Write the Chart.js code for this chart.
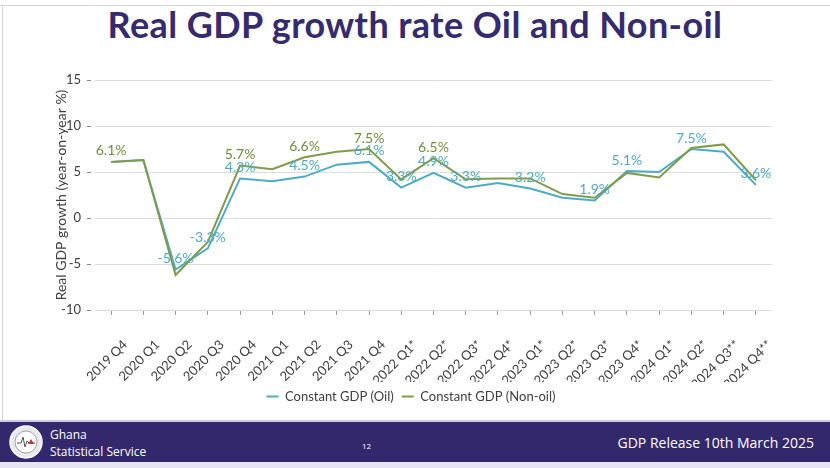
<!DOCTYPE html>
<html>
<head>
<meta charset="utf-8">
<script src="https://cdn.jsdelivr.net/npm/chart.js@4.4.0/dist/chart.umd.js"></script>
<style>
  html, body { margin: 0; padding: 0; background: #fff; }
  #slide { position: relative; width: 830px; height: 468px; overflow: hidden; background: #fff; }
  #frameTop { position: absolute; left: 0; top: 5px; width: 830px; height: 1px; background: #d4d4d4; }
  #frameLeft { position: absolute; left: 2px; top: 5px; width: 1px; height: 416px; background: #d4d4d4; }
  #title { position: absolute; left: 0; top: 2px; width: 830px; text-align: center; letter-spacing: 0.4px;
           font-family: Lato, sans-serif; font-weight: bold; font-size: 36px; color: #352b6e; }
  #chartBox { position: absolute; left: 0; top: 55px; width: 830px; height: 362px; }
  #footerLine { position: absolute; left: 0; top: 420px; width: 830px; height: 2px; background: #cfcbe6; }
  #footer { position: absolute; left: 0; top: 422px; width: 830px; height: 40px; background: #34286c; color: #fff; }
  #footerBottom { position: absolute; left: 0; top: 462px; width: 830px; height: 6px; background: #e6e4f2; }
  #logo { position: absolute; left: 8px; top: 3px; }
  #org { position: absolute; left: 50px; top: 4px; font-family: "Open Sans", sans-serif; font-size: 12px; line-height: 17px; }
  #page { position: absolute; left: 362px; top: 18px; font-family: "Open Sans", sans-serif; font-size: 8px; }
  #release { position: absolute; right: 16px; top: 11px; font-family: "Open Sans", sans-serif; font-size: 14px; }
</style>
</head>
<body>
<div id="slide">
  <div id="frameTop"></div>
  <div id="frameLeft"></div>
  <div id="title">Real GDP growth rate Oil and Non-oil</div>
  <div id="chartBox"><canvas id="gdpChart" width="830" height="362"></canvas></div>
  <div id="footerLine"></div>
  <div id="footer">
    <svg id="logo" width="36" height="34" viewBox="0 0 36 34">
      <circle cx="18" cy="17" r="16" fill="#e9e9ee" stroke="#fff" stroke-width="1.5"/>
      <circle cx="18" cy="17" r="11" fill="#fff" stroke="#8a8aa0" stroke-width="0.8"/>
      <polyline points="9,18 13,18 15,12 17,22 19,16 21,18 27,18" fill="none" stroke="#555" stroke-width="1"/>
      <polygon points="20,19 23,14 26,19" fill="#c0392b"/>
    </svg>
    <div id="org">Ghana<br>Statistical Service</div>
    <div id="page">12</div>
    <div id="release">GDP Release 10th March 2025</div>
  </div>
  <div id="footerBottom"></div>
</div>

<script>
  'use strict';

  // Quarters on the x axis
  const quarters = ['2019 Q4', '2020 Q1', '2020 Q2', '2020 Q3', '2020 Q4', '2021 Q1', '2021 Q2',
                    '2021 Q3', '2021 Q4', '2022 Q1*', '2022 Q2*', '2022 Q3*', '2022 Q4*', '2023 Q1*',
                    '2023 Q2*', '2023 Q3*', '2023 Q4*', '2024 Q1*', '2024 Q2*', '2024 Q3**', '2024 Q4**'];

  // Real GDP growth, year-on-year %
  const oilGrowth    = [6.1, 6.3, -5.6, -3.3, 4.3, 4.0, 4.5, 5.8, 6.1, 3.3, 4.9, 3.3, 3.8, 3.2, 2.2, 1.9, 5.1, 5.0, 7.5, 7.2, 3.6];
  const nonOilGrowth = [6.1, 6.3, -6.2, -2.6, 5.7, 5.3, 6.6, 7.2, 7.5, 4.2, 6.5, 4.2, 4.3, 4.3, 2.6, 2.2, 4.9, 4.4, 7.6, 8.0, 4.1];

  // Points that carry a value label
  const oilLabelIdx    = [2, 3, 4, 6, 8, 9, 10, 11, 13, 15, 16, 18, 20];
  const nonOilLabelIdx = [0, 4, 6, 8, 10];

  // y axis ticks
  const yMin = -10, yMax = 15, yStep = 5;

  const OIL_COLOR = '#4bacc6';
  const NONOIL_COLOR = '#7f9c48';
  const FONT = 'Lato, sans-serif';

  const valueLabels = {
    id: 'valueLabels',
    afterDatasetsDraw(chart) {
      const ctx = chart.ctx;
      ctx.save();
      ctx.font = '14px ' + FONT;
      ctx.textAlign = 'center';
      ctx.textBaseline = 'middle';
      const sets = [
        { di: 0, idx: oilLabelIdx, color: OIL_COLOR },
        { di: 1, idx: nonOilLabelIdx, color: '#6f8e3a' }
      ];
      sets.forEach(s => {
        const meta = chart.getDatasetMeta(s.di);
        const values = chart.data.datasets[s.di].data;
        ctx.fillStyle = s.color;
        s.idx.forEach(i => {
          const pt = meta.data[i];
          ctx.fillText(values[i].toFixed(1) + '%', pt.x, pt.y - 11);
        });
      });
      ctx.restore();
    }
  };

  new Chart(document.getElementById('gdpChart'), {
    type: 'line',
    data: {
      labels: quarters,
      datasets: [
        {
          label: 'Constant GDP (Oil)',
          data: oilGrowth,
          borderColor: OIL_COLOR,
          backgroundColor: OIL_COLOR,
          borderWidth: 2,
          pointRadius: 0,
          tension: 0,
          order: 2
        },
        {
          label: 'Constant GDP (Non-oil)',
          data: nonOilGrowth,
          borderColor: NONOIL_COLOR,
          backgroundColor: NONOIL_COLOR,
          borderWidth: 2,
          pointRadius: 0,
          tension: 0,
          order: 1
        }
      ]
    },
    options: {
      responsive: false,
      animation: false,
      layout: { padding: { left: 50, top: 25, right: 58, bottom: 4 } },
      plugins: {
        tooltip: { enabled: false },
        legend: {
          position: 'bottom',
          labels: {
            usePointStyle: true,
            pointStyle: 'line',
            pointStyleWidth: 12,
            boxHeight: 12,
            padding: 8,
            color: '#404040',
            font: { family: FONT, size: 13 },
            sort: (a, b) => a.datasetIndex - b.datasetIndex
          }
        }
      },
      scales: {
        x: {
          offset: true,
          grid: { offset: false, drawOnChartArea: false, tickLength: 5, tickColor: '#9a9a9a' },
          border: { display: false },
          ticks: {
            autoSkip: false,
            minRotation: 45,
            maxRotation: 45,
            padding: 22,
            labelOffset: 14,
            color: '#404040',
            font: { family: FONT, size: 13 }
          },
          afterFit(scale) { scale.height = 72; }
        },
        y: {
          min: yMin,
          max: yMax,
          grid: { color: '#dcdcdc', tickLength: 8, tickColor: '#8a8a8a', tickBorderDash: [4, 30] },
          border: { display: false },
          ticks: {
            stepSize: yStep,
            padding: 6,
            color: '#404040',
            font: { family: FONT, size: 13 }
          },
          title: {
            display: true,
            text: 'Real GDP growth (year-on-year %)',
            color: '#404040',
            padding: { top: 3, bottom: 0 },
            font: { family: FONT, size: 14 }
          },
          afterFit(scale) { scale.width = 45; }
        }
      }
    },
    plugins: [valueLabels]
  });
</script>
</body>
</html>
